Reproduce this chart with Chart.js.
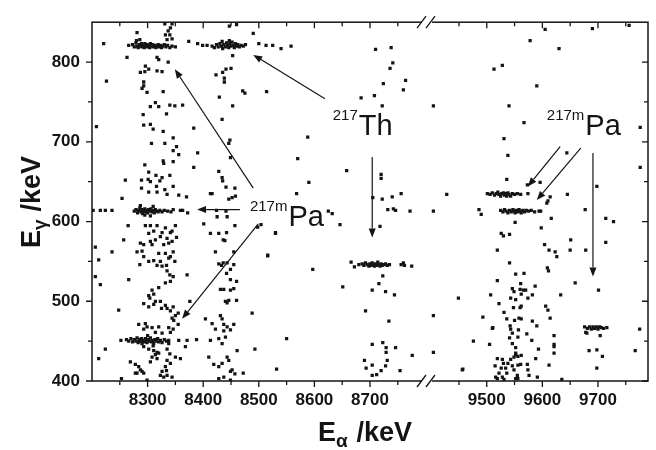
<!DOCTYPE html>
<html>
<head>
<meta charset="utf-8">
<script src="https://cdn.jsdelivr.net/npm/chart.js@4.4.1/dist/chart.umd.min.js"></script>
<style>
  html, body { margin: 0; padding: 0; background: #fff; }
  canvas { display: block; }
</style>
</head>
<body>
<canvas id="graphique" width="656" height="450"></canvas>
<script>
// x axis is broken between 8800 and 9400 keV; right part is shifted left by GAP
var GAP = 590;
var BREAK_AT = 8802.5;

var xLabels = [8300, 8400, 8500, 8600, 8700, 9500, 9600, 9700];
var xMinor = [8250, 8350, 8450, 8550, 8650, 8750, 9450, 9550, 9650, 9750];
var yLabels = [400, 500, 600, 700, 800];
var yMinor = [450, 550, 650, 750];

// E_alpha, E_gamma pairs (keV)
var band820a = [[8273,822],[8276,819],[8279,824],[8281,820],[8283,818],[8285,822],[8287,820],[8289,823],[8290,819],[8292,821],[8294,818],[8295,823],[8297,820],[8299,822],[8300,819],[8302,821],[8304,818],[8305,823],[8307,820],[8309,822],[8311,819],[8313,821],[8315,818],[8317,820],[8319,822],[8321,819],[8323,821],[8325,818],[8327,820],[8330,822],[8333,819],[8336,821],[8340,818],[8344,820],[8350,819],[8280,827],[8286,828]];
var band820b = [[8416,820],[8420,818],[8424,822],[8427,819],[8430,823],[8433,820],[8435,817],[8437,822],[8440,819],[8442,824],[8444,821],[8446,818],[8448,823],[8450,820],[8452,825],[8454,821],[8456,818],[8458,823],[8460,820],[8462,822],[8465,819],[8468,821],[8472,820],[8476,822],[8434,826],[8447,827]];
var band612a = [[8276,613],[8279,615],[8282,611],[8284,614],[8286,617],[8288,612],[8290,615],[8291,610],[8293,613],[8295,616],[8297,612],[8298,614],[8300,611],[8302,615],[8304,613],[8306,616],[8308,612],[8310,614],[8312,611],[8314,615],[8316,613],[8319,612],[8322,614],[8326,612],[8330,614],[8336,613],[8342,612],[8346,615],[8287,620],[8295,608],[8305,607],[8310,619],[8363,614],[8372,611]];
var band450a = [[8252,451],[8262,452],[8266,450],[8270,453],[8273,449],[8276,452],[8279,450],[8281,454],[8283,448],[8285,452],[8287,450],[8289,453],[8290,447],[8292,451],[8294,449],[8296,453],[8297,450],[8299,448],[8301,452],[8303,450],[8305,454],[8307,449],[8309,451],[8311,447],[8313,452],[8315,450],[8318,453],[8320,449],[8323,451],[8326,448],[8330,452],[8334,450],[8338,451],[8300,457],[8310,444]];
var band546 = [[8666,549],[8672,543],[8680,546],[8686,547],[8689,545],[8692,548],[8695,546],[8698,544],[8700,547],[8702,545],[8704,548],[8706,546],[8708,544],[8710,547],[8712,545],[8714,549],[8716,546],[8718,544],[8720,547],[8722,545],[8725,546],[8728,547],[8731,545],[8735,546],[8756,546],[8760,548],[8762,545],[8775,544]];
var band634 = [[9501,635],[9506,634],[9510,636],[9514,633],[9517,635],[9520,637],[9522,634],[9525,632],[9527,635],[9530,636],[9532,633],[9534,635],[9536,632],[9538,636],[9540,634],[9543,632],[9546,635],[9550,634],[9555,635],[9561,634]];
var band612b = [[9525,614],[9529,612],[9532,615],[9535,613],[9538,611],[9541,614],[9544,612],[9547,615],[9549,613],[9551,611],[9553,614],[9556,612],[9558,615],[9560,613],[9562,611],[9565,614],[9568,612],[9571,614],[9575,613],[9580,614],[9586,612],[9597,613]];
var band467 = [[9676,468],[9681,466],[9685,468],[9688,465],[9691,468],[9694,466],[9697,468],[9700,465],[9703,468],[9706,467],[9710,466],[9716,467],[9678,461]];

var col8300 = [[8331,848],[8344,848],[8341,843],[8337,839],[8332,834],[8340,834],[8335,828],[8344,829],[8281,837],[8266,821],[8221,823],[8263,806],[8226,776],[8208,719],
  [8296,795],[8302,791],[8287,787],[8295,788],[8317,806],[8320,803],[8317,789],[8326,788],[8337,800],[8293,775],[8293,770],[8290,767],[8299,762],[8328,763],[8314,749],[8305,744],[8320,744],[8340,746],[8349,745],[8292,734],[8334,735],[8293,721],[8305,722],[8310,716],[8328,713],[8346,705],[8307,698],[8331,698],[8352,694],[8346,689],[8356,684],[8328,676],[8329,673],[8346,675],[8295,671],[8302,662],[8315,658],[8340,658],[8301,653],[8305,650],[8326,655],[8322,651],[8289,652],[8260,652],[8316,644],[8289,642],[8346,644],[8302,637],[8317,637],[8331,640],[8335,634],[8356,633],[8370,631],[8254,629],
  [8363,746],[8383,717],[8390,686],[8383,668],
  [8202,614],[8215,614],[8224,614],[8236,614],[8359,614],
  [8265,595],[8257,577],[8296,595],[8305,595],[8317,595],[8302,585],[8311,588],[8326,586],[8332,592],[8341,586],[8344,588],[8350,595],[8335,579],[8323,581],[8314,577],[8305,575],[8344,575],[8352,580],[8287,573],[8293,571],[8308,571],[8329,571],[8338,573],[8281,562],[8290,563],[8293,556],[8286,546],[8302,550],[8311,551],[8320,560],[8323,550],[8332,560],[8334,545],[8338,554],[8341,556],[8346,562],[8349,550],[8326,544],[8317,545],[8335,538],[8340,533],[8346,531],[8341,525],[8332,523],[8371,533],[8266,527],[8215,521],[8206,531],[8212,552],[8236,562],[8206,568],
  [8308,514],[8302,507],[8304,504],[8311,509],[8320,517],[8323,500],[8314,500],[8293,497],[8302,493],[8311,496],[8325,491],[8332,495],[8335,491],[8341,488],[8346,493],[8355,485],[8347,476],[8350,482],[8344,479],[8376,500],[8248,489],[8284,471],[8296,472],[8299,468],[8293,465],[8308,467],[8320,468],[8314,461],[8326,460],[8338,467],[8346,465],[8355,471],[8341,461],
  [8371,451],[8388,452],[8224,440],[8212,428],
  [8293,443],[8302,440],[8311,438],[8317,436],[8314,433],[8320,435],[8308,430],[8317,428],[8305,424],[8338,447],[8335,440],[8340,434],[8335,426],[8341,422],[8332,418],[8334,413],[8326,412],[8323,407],[8329,405],[8335,407],[8344,405],[8269,424],[8278,421],[8284,418],[8287,414],[8281,410],[8290,412],[8293,410],[8278,410],[8299,401],[8253,403],[8350,430],[8359,428],[8368,443],[8356,451]];

var col8450 = [[8374,826],[8390,823],[8399,821],[8407,821],[8490,836],[8500,823],[8513,821],[8525,821],[8540,817],[8558,820],[8447,845],[8460,847],[8453,808],
  [8423,784],[8435,787],[8441,791],[8450,792],[8438,780],[8438,775],[8429,756],[8471,764],[8475,761],[8453,745],[8434,728],[8448,702],[8446,698],[8449,680],[8428,663],[8434,655],[8435,651],[8441,643],[8457,642],[8416,635],[8446,628],[8452,630],[8458,632],[8413,635],[8424,614],[8441,613],
  [8401,597],[8425,606],[8443,606],[8457,595],[8413,585],[8428,585],[8442,586],[8436,577],[8439,576],[8455,562],[8422,562],[8428,547],[8433,545],[8436,548],[8443,548],[8442,535],[8449,540],[8455,546],[8449,527],[8460,525],[8437,515],[8431,515],[8449,514],[8455,516],[8440,500],[8446,501],[8443,498],[8460,501],[8488,485],[8431,482],[8434,478],[8416,472],[8437,471],[8443,468],[8455,471],[8422,465],[8437,463],[8449,464],[8404,478],[8413,451],[8428,453],[8434,447],[8440,455],[8461,438],[8410,430],[8443,430],[8446,426],[8419,421],[8428,418],[8434,422],[8449,412],[8452,414],[8457,409],[8472,410],[8428,403],[8437,405],[8449,401],
  [8493,440],[8516,557],[8530,586],[8550,453],[8532,415],[8597,540],[8514,763]];

var mid8700 = [[8710,816],[8738,818],[8741,799],[8736,792],[8764,777],[8724,773],[8760,765],[8684,755],[8708,758],[8722,745],[8588,706],[8570,679],[8658,664],[8590,649],[8568,635],[8720,659],[8720,654],[8705,630],[8722,628],[8740,631],[8756,635],[8732,615],[8746,614],[8742,616],[8772,613],[8718,594],[8625,613],[8632,610],[8646,596],[8504,596],[8498,593],[8530,585],[8516,558],[8723,532],[8716,522],[8704,514],[8728,512],[8744,508],[8651,518],[8692,488],[8734,475],[8704,446],[8723,448],[8729,442],[8729,436],[8746,442],[8776,432],[8690,426],[8704,420],[8693,416],[8731,426],[8728,419],[8720,413],[8712,408],[8704,407],[8754,413]];

var col9550 = [[9404,745],[9404,613],[9404,482],[9404,436],[9605,841],[9690,842],[9756,846],[9578,827],[9630,817],[9513,791],[9528,796],[9590,770],[9540,745],[9567,724],[9776,718],[9531,704],[9538,683],[9644,686],[9776,668],[9536,653],[9573,646],[9596,649],[9698,644],[9428,634],[9574,635],[9645,634],[9614,631],[9610,626],
  [9486,615],[9490,609],[9594,613],[9608,623],[9677,615],[9714,604],[9728,600],[9616,604],[9551,599],[9598,592],[9526,585],[9530,582],[9541,584],[9651,577],[9678,564],[9650,564],[9714,574],[9604,571],[9612,564],[9623,562],[9626,556],[9519,564],[9541,548],[9609,542],[9611,538],[9552,534],[9567,535],[9519,526],[9659,523],[9701,514],[9561,522],[9546,516],[9549,512],[9560,515],[9566,514],[9570,514],[9562,509],[9543,504],[9552,502],[9574,504],[9582,508],[9587,519],[9507,508],[9633,508],[9449,504],[9522,497],[9606,494],[9610,489],[9614,479],[9548,492],[9560,492],[9562,494],[9531,486],[9536,478],[9550,476],[9558,479],[9562,478],[9582,475],[9590,469],[9542,469],[9543,465],[9510,466],[9493,480],[9546,460],[9557,464],[9572,459],[9541,454],[9546,447],[9556,455],
  [9581,451],[9621,457],[9621,446],[9621,443],[9621,435],[9593,440],[9505,446],[9476,450],[9552,442],[9552,435],
  [9519,428],[9528,427],[9530,422],[9526,416],[9522,410],[9516,405],[9519,403],[9528,405],[9531,402],[9536,410],[9538,422],[9543,427],[9546,419],[9549,430],[9552,433],[9556,431],[9556,420],[9561,421],[9562,432],[9549,414],[9555,407],[9552,403],[9556,403],[9573,421],[9574,414],[9576,407],[9591,405],[9588,428],[9612,420],[9534,416],[9515,419],[9635,402],[9456,414],[9457,415],[9511,467],
  [9680,460],[9704,457],[9684,438],[9698,439],[9708,431],[9698,416],[9767,438],[9775,465]];

// annotation labels [sup, main, E_alpha of left edge, E_gamma of baseline]
var labels = [['217', 'Th', 8633, 708], ['217m', 'Pa', 8484, 595], ['217m', 'Pa', 9608, 708]];
// arrows [x1, y1, x2, y2] in keV, head at the second point
var arrows = [[8619, 754, 8490, 809], [8704, 681, 8704, 580],
  [8490, 642, 8349, 791], [8466, 615, 8389, 615], [8499, 597, 8362, 478],
  [9632, 694, 9574, 644], [9669, 692, 9590, 627], [9691, 686, 9691, 531]];

function tx(x) { return x > 9000 ? x - GAP : x; }
function toPoints(arr) { return arr.map(function(p) { return {x: tx(p[0]), y: p[1]}; }); }

var FONT = '"Liberation Sans", Arial, sans-serif';
var INK = '#141414';

var decor = {
  id: 'decor',
  afterDraw: function(chart) {
    var ctx = chart.ctx, a = chart.chartArea;
    var xs = chart.scales.x, ys = chart.scales.y;
    var X = function(v) { return xs.getPixelForValue(tx(v)); };
    var Y = function(v) { return ys.getPixelForValue(v); };
    ctx.save();
    ctx.strokeStyle = INK; ctx.fillStyle = INK;
    ctx.lineWidth = 1.5;
    ctx.strokeRect(a.left, a.top, a.right - a.left, a.bottom - a.top);
    ctx.lineWidth = 1.3;
    ctx.beginPath();
    xLabels.concat(xMinor).forEach(function(v) {
      var l = xLabels.indexOf(v) >= 0 ? 6 : 4, p = X(v);
      ctx.moveTo(p, a.bottom); ctx.lineTo(p, a.bottom + l);
      ctx.moveTo(p, a.top); ctx.lineTo(p, a.top + l);
    });
    yLabels.concat(yMinor).forEach(function(v) {
      var l = yLabels.indexOf(v) >= 0 ? 6 : 4, p = Y(v);
      ctx.moveTo(a.left, p); ctx.lineTo(a.left - l, p);
      ctx.moveTo(a.right, p); ctx.lineTo(a.right - l, p);
    });
    ctx.stroke();

    // axis break marks
    var bx = xs.getPixelForValue(BREAK_AT);
    [a.top, a.bottom].forEach(function(yy) {
      ctx.fillStyle = '#fff';
      ctx.fillRect(bx - 5, yy - 2, 10, 4);
      ctx.beginPath();
      ctx.moveTo(bx - 10, yy + 6); ctx.lineTo(bx - 1, yy - 6);
      ctx.moveTo(bx - 1, yy + 6); ctx.lineTo(bx + 8, yy - 6);
      ctx.stroke();
    });
    ctx.fillStyle = INK;

    // arrows
    ctx.lineWidth = 1.2;
    arrows.forEach(function(r) {
      var x1 = X(r[0]), y1 = Y(r[1]), x2 = X(r[2]), y2 = Y(r[3]);
      var ang = Math.atan2(y2 - y1, x2 - x1), hl = 9, hw = 3.5;
      var bxp = x2 - hl * Math.cos(ang), byp = y2 - hl * Math.sin(ang);
      ctx.beginPath(); ctx.moveTo(x1, y1); ctx.lineTo(bxp, byp); ctx.stroke();
      ctx.beginPath();
      ctx.moveTo(x2, y2);
      ctx.lineTo(bxp + hw * Math.sin(ang), byp - hw * Math.cos(ang));
      ctx.lineTo(bxp - hw * Math.sin(ang), byp + hw * Math.cos(ang));
      ctx.closePath(); ctx.fill();
    });

    // nuclide labels
    ctx.textBaseline = 'alphabetic'; ctx.textAlign = 'left';
    labels.forEach(function(l) {
      var x0 = X(l[2]), y0 = Y(l[3]);
      ctx.font = '15px ' + FONT;
      ctx.fillText(l[0], x0, y0 - 15);
      var w = ctx.measureText(l[0]).width;
      ctx.font = '29px ' + FONT;
      ctx.fillText(l[1], x0 + w + 1, y0);
    });

    // axis titles with subscripts
    ctx.font = 'bold 27px ' + FONT;
    ctx.fillText('E', 318, 441);
    var ew = ctx.measureText('E').width;
    ctx.font = 'bold 19px ' + FONT;
    ctx.fillText('\u03b1', 318 + ew, 447);
    ctx.font = 'bold 27px ' + FONT;
    ctx.fillText(' /keV', 318 + ew + 13, 441);

    ctx.translate(40, 248);
    ctx.rotate(-Math.PI / 2);
    ctx.font = 'bold 27px ' + FONT;
    ctx.fillText('E', 0, 0);
    ctx.font = 'bold 19px ' + FONT;
    ctx.fillText('\u03b3', ew, 6);
    ctx.font = 'bold 27px ' + FONT;
    ctx.fillText(' /keV', ew + 11, 0);
    ctx.restore();
  }
};

document.addEventListener('DOMContentLoaded', function() {
  var groups = [band820a, band820b, band612a, band450a, band546, band634, band612b, band467,
    col8300, col8450, mid8700, col9550];
  var ctx = document.getElementById('graphique').getContext('2d');
  var graphique = new Chart(ctx, {
    type: 'scatter',
    data: {
      datasets: groups.map(function(g) {
        return {
          data: toPoints(g),
          pointStyle: 'rect',
          pointRadius: 2.3,
          pointBorderWidth: 0,
          backgroundColor: INK,
          borderColor: INK
        };
      })
    },
    options: {
      responsive: false,
      devicePixelRatio: 1,
      animation: false,
      layout: { padding: { left: 0, right: 8, top: 17, bottom: 0 } },
      plugins: { legend: { display: false }, tooltip: { enabled: false } },
      scales: {
        x: {
          type: 'linear', min: 8200, max: 9200,
          grid: { display: false, drawTicks: false },
          border: { display: false },
          afterBuildTicks: function(s) { s.ticks = xLabels.map(function(v) { return {value: tx(v)}; }); },
          afterFit: function(s) { s.height = 69; },
          ticks: {
            autoSkip: false, maxRotation: 0, padding: 9, color: INK,
            font: { family: FONT, size: 17, weight: 'bold' },
            callback: function(v) { return v > BREAK_AT ? v + GAP : v; }
          }
        },
        y: {
          type: 'linear', min: 400, max: 850,
          grid: { display: false, drawTicks: false },
          border: { display: false },
          afterBuildTicks: function(s) { s.ticks = yLabels.map(function(v) { return {value: v}; }); },
          afterFit: function(s) { s.width = 92; },
          ticks: {
            padding: 12, color: INK,
            font: { family: FONT, size: 17, weight: 'bold' }
          }
        }
      }
    },
    plugins: [decor]
  });
});
</script>
</body>
</html>
